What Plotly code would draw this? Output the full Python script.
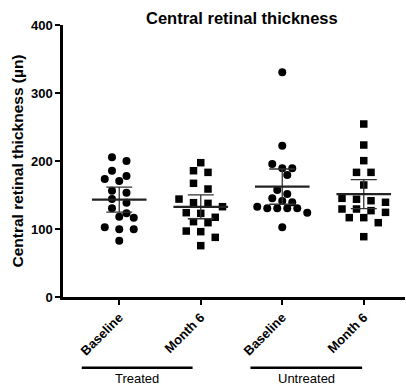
import numpy as np
import plotly.graph_objects as go

# ---------------- data ----------------
categories = ["Baseline", "Month 6", "Baseline", "Month 6"]
group_labels = ["Treated", "Untreated"]

treated_baseline = [205.4, 200.0, 185.7, 178.0, 173.5, 170.6, 156.4, 153.4, 144.0,
                    138.7, 130.4, 123.0, 118.0, 116.7, 102.5, 99.5, 99.5, 82.8]
treated_month6 = [197.5, 185.7, 183.3, 167.2, 158.8, 144.0, 138.7, 137.7, 132.8,
                  124.0, 123.0, 117.2, 110.8, 109.3, 97.0, 96.1, 87.7, 75.5]
untreated_baseline = [330.4, 222.5, 195.6, 189.2, 189.2, 179.4, 157.4, 151.5, 145.1,
                      141.2, 139.3, 132.8, 130.4, 130.4, 130.4, 130.4, 124.0, 102.5]
untreated_month6 = [254.4, 223.5, 200.5, 183.3, 183.3, 164.7, 145.1, 143.7, 141.6,
                    139.3, 129.4, 129.4, 127.0, 124.5, 116.7, 116.7, 109.3, 88.7]

series = [treated_baseline, treated_month6, untreated_baseline, untreated_month6]
symbols = ["circle", "square", "circle", "square"]
y_ticks = [0, 100, 200, 300, 400]

# ---------------- geometry ----------------
W, H = 406, 392
M_L, M_R, M_T, M_B = 63, 1, 25, 95
X_RANGE = [-0.69, 3.506]
Y_RANGE = [0, 400]
px_per_x = (W - M_L - M_R) / (X_RANGE[1] - X_RANGE[0])
px_per_y = (H - M_T - M_B) / (Y_RANGE[1] - Y_RANGE[0])


def swarm_offsets(values, row_h=8.0, max_step=14.5, max_width=50.0, diam=8.0):
    """Row-based scatter layout (GraphPad-like); returns x offsets in data units."""
    v = np.asarray(values, dtype=float)
    order = list(np.argsort(v)[::-1])
    rows = []
    for idx in order:
        if rows and (v[rows[-1][0]] - v[idx]) * px_per_y < row_h:
            rows[-1].append(idx)
        else:
            rows.append([idx])
    nmax = max(len(r) for r in rows)
    step = max_step if nmax < 2 else min(max_step, max_width / (nmax - 1))
    placed = []
    offsets = np.zeros(len(v))
    for r in rows:
        n = len(r)
        base = [(k - (n - 1) / 2) * step for k in range(n)]
        chosen = base
        for shift in [0, step / 2, -step / 2, step, -step, 1.5 * step, -1.5 * step]:
            xs = [b + shift for b in base]
            ok = True
            for xk, idx in zip(xs, r):
                yk = v[idx] * px_per_y
                for px, py in placed:
                    if np.hypot(xk - px, yk - py) < diam:
                        ok = False
                        break
                if not ok:
                    break
            if ok:
                chosen = xs
                break
        for xk, idx in zip(chosen, r):
            placed.append((xk, v[idx] * px_per_y))
            offsets[idx] = xk / px_per_x
    return offsets


fig = go.Figure()

T_CRIT = 2.110  # t(0.975, df=17) -> 95% CI

for i, vals in enumerate(series):
    v = np.array(vals)
    off = swarm_offsets(v)
    fig.add_trace(go.Scatter(
        x=i + off, y=v, mode="markers",
        marker=dict(symbol=symbols[i], size=8 if symbols[i] == "circle" else 7.5,
                    color="black", line=dict(width=0)),
        showlegend=False, hoverinfo="y"))
    mean = v.mean()
    ci = T_CRIT * v.std(ddof=1) / np.sqrt(len(v))
    fig.add_trace(go.Scatter(
        x=[i], y=[mean], mode="markers",
        marker=dict(size=1, color="rgba(0,0,0,0)"),
        error_y=dict(type="data", array=[ci], visible=True, color="#333333",
                     thickness=1.3, width=13),
        showlegend=False, hoverinfo="skip"))
    fig.add_trace(go.Scatter(
        x=[i - 0.335, i + 0.335], y=[mean, mean], mode="lines",
        line=dict(color="#222222", width=2.2),
        showlegend=False, hoverinfo="skip"))

FONT = "Arial, Liberation Sans, sans-serif"

groups = [(-0.46, 0.90, group_labels[0]), (1.61, 2.98, group_labels[1])]
for x0, x1, lab in groups:
    fig.add_shape(type="line", xref="x", yref="paper", x0=x0, x1=x1, y0=-0.26, y1=-0.26,
                  line=dict(color="black", width=2.5))
    fig.add_annotation(x=(x0 + x1) / 2, y=-0.30, xref="x", yref="paper", text=lab,
                       showarrow=False, yanchor="middle",
                       font=dict(family=FONT, size=13, color="black"))

fig.update_layout(
    width=W, height=H,
    margin=dict(l=M_L, r=M_R, t=M_T, b=M_B),
    plot_bgcolor="white", paper_bgcolor="white",
    title=dict(text="<b>Central retinal thickness</b>", x=0.523, xref="paper",
               y=1 - 18 / H, yref="container", xanchor="center", yanchor="middle",
               font=dict(family=FONT, size=16.5, color="black")),
    xaxis=dict(range=X_RANGE, tickvals=list(range(len(categories))),
               ticktext=["<b>%s</b>" % c for c in categories], tickangle=-45,
               showline=True, linecolor="black", linewidth=2.5, ticks="outside",
               ticklen=5, tickwidth=2, tickcolor="black", showgrid=False, zeroline=False,
               tickfont=dict(family=FONT, size=13, color="black")),
    yaxis=dict(range=Y_RANGE, tickvals=y_ticks, ticktext=["<b>%d</b>" % t for t in y_ticks],
               showline=True, linecolor="black", linewidth=2.5, ticks="outside",
               ticklen=5, tickwidth=2, tickcolor="black", showgrid=False, zeroline=False,
               tickfont=dict(family=FONT, size=13, color="black"),
               title=dict(text="<b>Central retinal thickness (µn)</b>", standoff=4,
                          font=dict(family=FONT, size=15.5, color="black"))),
)

fig.write_html("out.html")
